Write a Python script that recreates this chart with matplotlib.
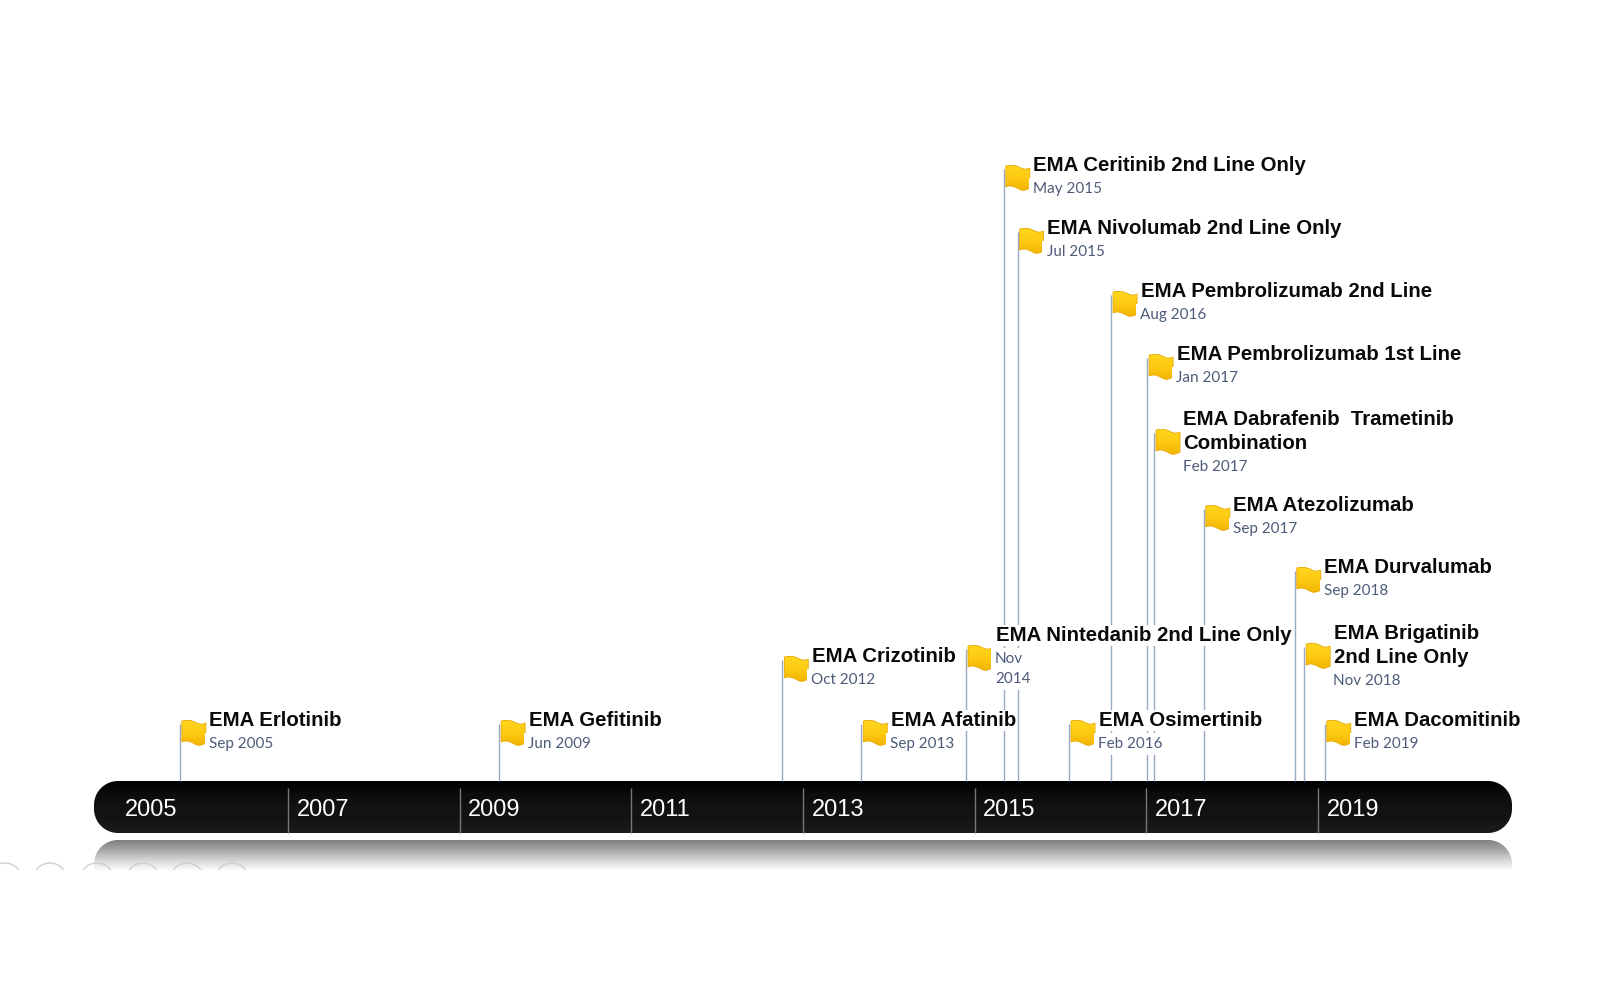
import matplotlib
matplotlib.use("Agg")
import matplotlib.pyplot as plt
import numpy as np
from matplotlib.patches import Ellipse, PathPatch, Rectangle
from matplotlib.path import Path
from matplotlib.colors import LinearSegmentedColormap

# timeline data
event_names = [
    "EMA Erlotinib", "EMA Gefitinib", "EMA Crizotinib", "EMA Afatinib",
    "EMA Nintedanib 2nd Line Only", "EMA Ceritinib 2nd Line Only",
    "EMA Nivolumab 2nd Line Only", "EMA Osimertinib", "EMA Pembrolizumab 2nd Line",
    "EMA Pembrolizumab 1st Line", "EMA Dabrafenib  Trametinib\nCombination",
    "EMA Atezolizumab", "EMA Durvalumab", "EMA Brigatinib\n2nd Line Only",
    "EMA Dacomitinib",
]
event_labels = [
    "Sep 2005", "Jun 2009", "Oct 2012", "Sep 2013", "Nov\n2014", "May 2015",
    "Jul 2015", "Feb 2016", "Aug 2016", "Jan 2017", "Feb 2017", "Sep 2017",
    "Sep 2018", "Nov 2018", "Feb 2019",
]
event_dates = [
    2005.74, 2009.46, 2012.76, 2013.68, 2014.90, 2015.34, 2015.50, 2016.10,
    2016.59, 2017.01, 2017.09, 2017.67, 2018.73, 2018.84, 2019.08,
]
stem_heights = [57, 57, 121, 57, 132, 612, 549, 57, 486, 423, 348, 272, 210, 134, 57]
axis_years = [2005, 2007, 2009, 2011, 2013, 2015, 2017, 2019]

PX_PER_YEAR = 85.83
W, H = 1602, 1005
BAR_TOP_PX = 781
BAR_H = 52

fig = plt.figure(figsize=(W / 100, H / 100), dpi=100, facecolor="white")
ax = fig.add_axes([0, 0, 1, 1])
x0 = 2005 - 116.3 / PX_PER_YEAR
x1 = x0 + W / PX_PER_YEAR
y0, y1 = BAR_TOP_PX - H, BAR_TOP_PX
ax.axis("off")


def px(n):
    # pixel width to years
    return n / PX_PER_YEAR


def gradient(patch, colors, extent, z):
    cmap = LinearSegmentedColormap.from_list("g", colors)
    im = ax.imshow(np.linspace(0, 1, 128).reshape(-1, 1), cmap=cmap, extent=extent,
                   aspect="auto", origin="upper", zorder=z, interpolation="bilinear")
    im.set_clip_path(patch)


def rounded(x_a, x_b, top, bottom, r):
    # real circular corners, the x axis is in years so r is scaled there
    t = np.linspace(0, np.pi / 2, 24)
    pts = []
    pts += [(x_b - px(r) + px(r) * np.cos(a), top - r + r * np.sin(a)) for a in t]
    pts += [(x_a + px(r) - px(r) * np.sin(a), top - r + r * np.cos(a)) for a in t]
    pts += [(x_a + px(r) - px(r) * np.cos(a), bottom + r - r * np.sin(a)) for a in t]
    pts += [(x_b - px(r) + px(r) * np.sin(a), bottom + r - r * np.cos(a)) for a in t]
    pts.append(pts[0])
    return PathPatch(Path(pts, closed=True), linewidth=0, facecolor="none", zorder=1)


bar_left = 2005 + (94 - 116.3) / PX_PER_YEAR
bar_right = 2005 + (1512 - 116.3) / PX_PER_YEAR

# reflection under the bar
shadow = rounded(bar_left, bar_right, -59, -120, 24)
ax.add_patch(shadow)
gradient(shadow, ["#808080", "#a8a8a8", "#d8d8d8", "#ffffff"], [bar_left, bar_right, -90, -59], 1)

# faint circles cut off at the bottom left
for cx in [5, 50, 97, 143, 187, 232]:
    e = Ellipse((2005 + (cx - 116.3) / PX_PER_YEAR, BAR_TOP_PX - 880), px(34), 34,
                fill=False, edgecolor="#cfcfcf", linewidth=1.0, zorder=2)
    ax.add_patch(e)
    e.set_clip_path(Rectangle((x0, BAR_TOP_PX - 870), x1 - x0, 20, transform=ax.transData))

# black bar
bar = rounded(bar_left, bar_right, 0, -BAR_H, 24)
ax.add_patch(bar)
gradient(bar, ["#000000", "#0c0c0c", "#121212", "#141414", "#1c1c1c"], [bar_left, bar_right, -BAR_H, 0], 2)

for yr in axis_years:
    if yr > 2005:
        ax.plot([yr, yr], [-7, -BAR_H], color="#777777", lw=1.0, zorder=3, solid_capstyle="butt")
    ax.text(yr + 0.10, -28.5, str(yr), color="white", fontsize=17, family="Liberation Sans",
            ha="left", va="center", zorder=4)

# flag outline, relative to the top of the stem, in pixels
flag_verts = [(2, -3), (8, -4), (12, -4), (17, -1), (21, 1), (24, 0), (26, -1),
              (26, 19), (26, 19), (26, 19),
              (24, 20), (20, 23), (15, 20), (10, 17), (6, 16), (2, 18),
              (2, -3)]
flag_codes = [Path.MOVETO] + [Path.CURVE4] * 6 + [Path.LINETO] * 3 + [Path.CURVE4] * 6 + [Path.CLOSEPOLY]

for name, label, date, top in zip(event_names, event_labels, event_dates, stem_heights):
    ax.plot([date, date], [0, top], color="#98a9c6", lw=1.0, zorder=5, solid_capstyle="butt")

    verts = [(date + px(vx), top - vy) for vx, vy in flag_verts]
    flag = PathPatch(Path(verts, flag_codes), facecolor="none", edgecolor="#e8a800", lw=0.6, zorder=7)
    ax.add_patch(flag)
    gradient(flag, ["#ffd820", "#fdc910", "#f0b000"],
             [date + px(2), date + px(26), top - 24, top + 5], 6)

    # one-line titles sit lower, next to the flag
    two_rows = "\n" in name or name.startswith("EMA Nintedanib")
    title_y = top + (13.5 if two_rows else 3.5)
    first_date_y = title_y - 23.5 * (name.count("\n") + 1)
    ax.text(date + px(29.5), title_y, name.split("\n")[0], fontsize=14.65, fontweight="bold",
            family="Liberation Sans", color="#0a0a0a", ha="left", va="center", zorder=9,
            bbox=dict(facecolor="white", edgecolor="none", pad=1))
    if "\n" in name:
        ax.text(date + px(29.5), title_y - 24, name.split("\n")[1], fontsize=14.65, fontweight="bold",
                family="Liberation Sans", color="#0a0a0a", ha="left", va="center", zorder=9,
                bbox=dict(facecolor="white", edgecolor="none", pad=1))
    for i, part in enumerate(label.split("\n")):
        ax.text(date + px(29), first_date_y - i * 20, part, fontsize=11, family="Lato",
                color="#4c5b78", ha="left", va="center", zorder=8,
                bbox=dict(facecolor="white", edgecolor="none", pad=3))

ax.set_xlim(x0, x1)
ax.set_ylim(y0, y1)
fig.savefig("out.png", dpi=100, facecolor="white")
